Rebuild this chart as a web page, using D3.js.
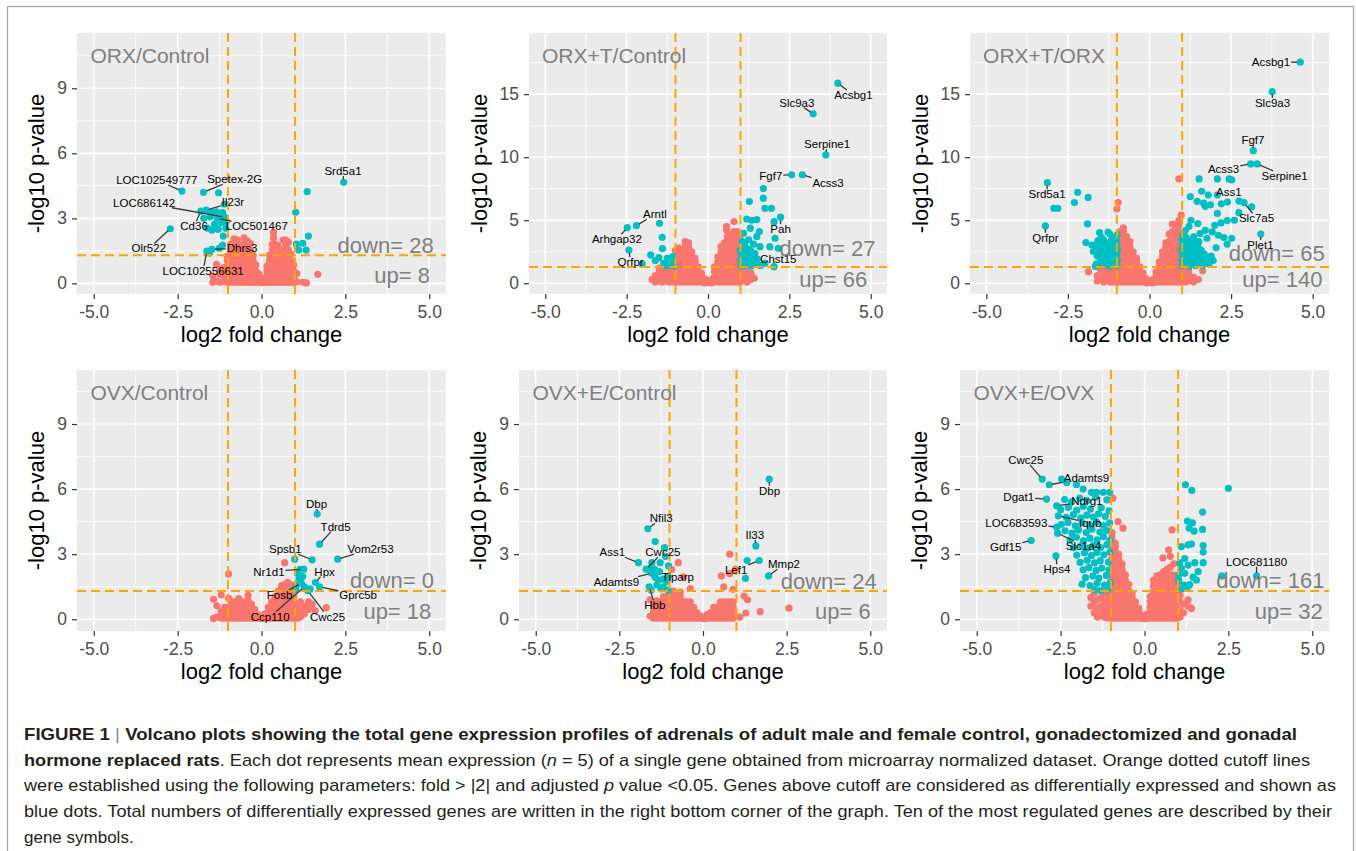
<!DOCTYPE html>
<html>
<head>
<meta charset="utf-8">
<script src="https://cdn.jsdelivr.net/npm/d3@7"></script>
<style>
  body { margin: 0; background: #fff; }
  svg { display: block; font-family: "Liberation Sans", Arial, Helvetica, sans-serif; }
</style>
</head>
<body>
<div id="fig"></div>
<script>
// ---- panel text / counts ----
const titles = ['ORX/Control', 'ORX+T/Control', 'ORX+T/ORX', 'OVX/Control', 'OVX+E/Control', 'OVX+E/OVX'];
const downCounts = [28, 27, 65, 0, 24, 161];
const upCounts = [8, 66, 140, 18, 6, 32];
const downAt = [[3.70, 1.77], [3.67, 2.78], [3.90, 2.38], [3.89, 1.78], [3.76, 1.74], [3.75, 1.78]];
const upAt = [[4.19, 0.36], [3.85, 0.32], [4.07, 0.32], [4.05, 0.35], [4.18, 0.35], [4.30, 0.35]];
const xTicks = [-5, -2.5, 0, 2.5, 5];
const yTicksSmall = [0, 3, 6, 9];
const yTicksBig = [0, 5, 10, 15];

// ---- non significant genes (red), columns: [log2FC, -log10p, -log10p, ...] ----
const orxCtrlRed = [
  [-1.45, 0.05, 0.35], [-1.34, 0.1, 0.88], [-1.24, 0.05, 0.42, 0.65], [-1.12, 0.1, 0.35, 0.73],
  [-1.02, 0.05, 0.3, 0.55, 0.8, 1.05, 1.25],
  [-0.92, 0.05, 0.3, 0.55, 0.8, 1.05, 1.3, 1.55, 1.8],
  [-0.82, 0.05, 0.3, 0.55, 0.8, 1.05, 1.3, 1.55, 1.8, 2.05],
  [-0.72, 0.05, 0.3, 0.55, 0.8, 1.05, 1.3, 1.55, 1.8, 2.0],
  [-0.62, 0.05, 0.3, 0.55, 0.8, 1.05, 1.3, 1.55, 1.75],
  [-0.52, 0.05, 0.3, 0.55, 0.8, 1.05, 1.3, 1.55, 1.8, 2.1],
  [-0.42, 0.05, 0.3, 0.55, 0.8, 1.05, 1.3, 1.55, 1.8, 1.95],
  [-0.33, 0.05, 0.3, 0.55, 0.8, 1.05, 1.3, 1.55, 1.85],
  [-0.25, 0.05, 0.3, 0.55, 0.8, 1.05, 1.3],
  [-0.17, 0.05, 0.3, 0.55, 0.85], [-0.09, 0.05, 0.3, 0.45], [0, 0.03, 0.15], [0.08, 0.05, 0.25],
  [0.16, 0.05, 0.3, 0.55, 0.8],
  [0.24, 0.05, 0.3, 0.55, 0.8, 1.05, 1.3],
  [0.32, 0.05, 0.3, 0.55, 0.8, 1.05, 1.3, 1.55, 1.8], [0.36, 2.1, 2.35],
  [0.4, 0.05, 0.3, 0.55, 0.8, 1.05, 1.3, 1.55, 1.8],
  [0.48, 0.05, 0.3, 0.55, 0.8, 1.05, 1.3, 1.55, 1.75],
  [0.56, 0.05, 0.3, 0.55, 0.8, 1.05, 1.3, 1.55],
  [0.64, 0.05, 0.3, 0.55, 0.8, 1.05, 1.3, 1.55, 2.0],
  [0.72, 0.05, 0.3, 0.55, 0.8, 1.05, 1.3, 1.55, 1.8, 2.0],
  [0.8, 0.05, 0.3, 0.55, 0.8, 1.05, 1.3, 1.55, 1.9],
  [0.88, 0.05, 0.3, 0.55, 0.8, 1.05, 1.35],
  [0.96, 0.05, 0.3, 0.55, 0.85], [1.05, 0.08, 0.46], [1.24, 0.05], [1.34, 0.02], [1.68, 0.42]
];
const orxTCtrlRed = [
  [-1.72, 0.3], [-1.62, 0.1, 0.6], [-1.5, 0.2, 0.8, 1.2], [-1.4, 0.1, 0.5, 0.9], [-1.3, 0.2, 0.6, 1.0],
  [-1.2, 0.1, 0.5, 0.9, 1.3], [-1.1, 0.1, 0.5, 0.9],
  [-1.0, 0.1, 0.5, 0.9, 1.3, 1.7, 2.1, 2.6],
  [-0.9, 0.1, 0.5, 0.9, 1.3, 1.7, 2.1, 2.5, 2.8],
  [-0.8, 0.1, 0.5, 0.9, 1.3, 1.7, 2.1, 2.5],
  [-0.7, 0.1, 0.5, 0.9, 1.3, 1.7, 2.1, 2.5, 2.9, 3.3],
  [-0.6, 0.1, 0.5, 0.9, 1.3, 1.7, 2.1, 2.5, 2.9, 3.2],
  [-0.5, 0.1, 0.5, 0.9, 1.3, 1.7, 2.1, 2.5],
  [-0.4, 0.1, 0.5, 0.9, 1.3, 1.7, 2.0],
  [-0.3, 0.1, 0.5, 0.9, 1.3], [-0.2, 0.1, 0.5, 0.8], [-0.1, 0.05, 0.35], [0, 0.05], [0.1, 0.05, 0.3],
  [0.2, 0.1, 0.5, 0.9, 1.3],
  [0.3, 0.1, 0.5, 0.9, 1.3, 1.7, 2.1],
  [0.4, 0.1, 0.5, 0.9, 1.3, 1.7, 2.1, 2.5, 2.9],
  [0.5, 0.1, 0.5, 0.9, 1.3, 1.7, 2.1, 2.5, 2.9, 3.2], [0.57, 4.2, 4.5],
  [0.6, 0.1, 0.5, 0.9, 1.3, 1.7, 2.1, 2.5, 2.9, 3.3, 3.7],
  [0.7, 0.1, 0.5, 0.9, 1.3, 1.7, 2.1, 2.5, 2.9, 3.3, 3.8],
  [0.8, 0.1, 0.5, 0.9, 1.3, 1.7, 2.1, 2.5, 2.9, 3.3, 3.7, 4.1, 4.9],
  [0.9, 0.1, 0.5, 0.9, 1.3, 1.7, 2.1, 2.5, 2.9, 3.3, 3.7, 4.1],
  [0.98, 0.1, 0.5, 0.9, 1.3, 2.0, 2.8, 3.5],
  [1.1, 0.2, 0.6, 1.0], [1.2, 0.1, 0.5, 0.9], [1.32, 0.3, 0.8], [1.42, 0.4]
];
const orxTOrxRed = [
  [-1.87, 0.92], [-1.6, 0.18, 0.6], [-1.5, 0.3, 1.06], [-1.4, 0.1, 0.5, 0.9], [-1.3, 0.2, 0.6, 1.0],
  [-1.2, 0.1, 0.5, 0.9], [-1.1, 0.1, 0.5, 0.9, 1.2], [-1.0, 0.1, 0.5, 0.9, 5.9], [-0.96, 6.4],
  [-0.9, 0.1, 0.5, 0.9, 1.3, 1.7, 2.1, 2.5, 2.9, 3.3, 3.7, 4.1],
  [-0.8, 0.1, 0.5, 0.9, 1.3, 1.7, 2.1, 2.5, 2.9, 3.3, 3.7, 4.1, 4.4],
  [-0.7, 0.1, 0.5, 0.9, 1.3, 1.7, 2.1, 2.5, 2.9, 3.3, 3.7],
  [-0.6, 0.1, 0.5, 0.9, 1.3, 1.7, 2.1, 2.5, 2.9, 3.3],
  [-0.5, 0.1, 0.5, 0.9, 1.3, 1.7, 2.1, 2.5],
  [-0.4, 0.1, 0.5, 0.9, 1.3, 1.7, 2.0],
  [-0.3, 0.1, 0.5, 0.9, 1.3], [-0.2, 0.1, 0.5, 0.8], [-0.1, 0.05, 0.35], [0, 0.05], [0.1, 0.05, 0.3],
  [0.2, 0.1, 0.5, 0.9],
  [0.3, 0.1, 0.5, 0.9, 1.3, 1.7],
  [0.4, 0.1, 0.5, 0.9, 1.3, 1.7, 2.1, 2.5],
  [0.5, 0.1, 0.5, 0.9, 1.3, 1.7, 2.1, 2.5, 2.9, 3.2],
  [0.6, 0.1, 0.5, 0.9, 1.3, 1.7, 2.1, 2.5, 2.9, 3.3, 3.9],
  [0.7, 0.1, 0.5, 0.9, 1.3, 1.7, 2.1, 2.5, 2.9, 3.3, 3.7, 4.1, 4.7],
  [0.8, 0.1, 0.5, 0.9, 1.3, 1.7, 2.1, 2.5, 2.9, 3.3, 3.7, 4.1, 4.5],
  [0.9, 0.1, 0.5, 0.9, 1.3, 1.7, 2.1, 2.5, 2.9, 3.3, 3.7, 4.1, 4.6, 5.0, 8.28],
  [0.97, 0.1, 0.5, 0.9, 1.3, 1.7, 2.1, 2.5, 3.0, 5.4],
  [1.1, 0.1, 0.5, 0.9], [1.2, 0.2, 0.6, 1.0], [1.35, 0.1, 0.5], [1.5, 0.3], [1.63, 1.0]
];
const ovxCtrlRed = [
  [-1.43, 0.04, 0.92], [-1.33, 0.1, 0.62], [-1.2, 0.05, 0.35, 1.12], [-1.1, 0.05, 0.3, 0.55],
  [-0.98, 0.05, 0.3, 0.55, 0.97, 2.09], [-0.88, 0.05, 0.3, 0.55, 0.8], [-0.78, 0.05, 0.3, 0.55, 0.8],
  [-0.68, 0.05, 0.3, 0.55, 0.8, 0.95], [-0.58, 0.05, 0.3, 0.55, 0.8], [-0.48, 0.05, 0.3, 0.55, 0.8],
  [-0.4, 0.05, 0.3, 0.55, 0.85, 1.1], [-0.3, 0.05, 0.3, 0.55, 0.7], [-0.2, 0.05, 0.3, 0.45],
  [-0.1, 0.05, 0.2], [0, 0.03], [0.1, 0.05, 0.25], [0.2, 0.05, 0.3, 0.55], [0.3, 0.05, 0.3, 0.55, 0.8],
  [0.4, 0.05, 0.3, 0.55, 0.8, 1.05],
  [0.5, 0.05, 0.3, 0.55, 0.8, 1.05, 1.3],
  [0.6, 0.05, 0.3, 0.55, 0.8, 1.05, 1.3, 1.55],
  [0.69, 0.05, 0.3, 0.55, 0.8, 1.05, 1.3, 1.6, 2.61],
  [0.78, 0.05, 0.3, 0.55, 0.8, 1.05, 1.3, 1.7],
  [0.87, 0.05, 0.3, 0.55, 0.8, 1.05, 1.3, 1.6],
  [0.96, 0.05, 0.3, 0.55, 0.8, 1.05],
  [1.06, 0.05, 0.3, 0.6], [1.16, 0.1, 0.4, 0.8], [1.28, 0.25, 0.6], [1.4, 0.45, 0.8], [1.51, 0.7],
  [1.6, 0.4], [1.93, 0.54]
];
const ovxECtrlRed = [
  [-1.58, 0.14, 0.9], [-1.48, 0.05, 0.35, 0.6], [-1.38, 0.05, 0.3, 0.55, 0.85], [-1.28, 0.05, 0.3, 0.55, 0.8],
  [-1.18, 0.05, 0.3, 0.55, 0.8, 1.05], [-1.08, 0.05, 0.3, 0.55, 0.8, 1.05],
  [-0.98, 0.05, 0.3, 0.55, 0.8, 1.05, 1.3], [-0.94, 2.3], [-0.88, 0.05, 0.3, 0.55, 0.8, 1.05, 1.3],
  [-0.78, 0.05, 0.3, 0.55, 0.8, 1.05], [-0.74, 2.61], [-0.68, 0.05, 0.3, 0.55, 0.8, 1.05, 1.25],
  [-0.58, 0.05, 0.3, 0.55, 0.8, 1.96], [-0.48, 0.05, 0.3, 0.55, 0.8], [-0.38, 0.05, 0.3, 0.55, 0.8, 1.42],
  [-0.28, 0.05, 0.3, 0.55], [-0.18, 0.05, 0.3], [-0.08, 0.05, 0.15], [0.02, 0.03], [0.12, 0.05, 0.2],
  [0.22, 0.05, 0.3], [0.32, 0.05, 0.3, 0.55], [0.42, 0.05, 0.3, 0.55], [0.52, 0.05, 0.3, 0.55, 0.8],
  [0.55, 2.0], [0.62, 0.05, 0.3, 0.55, 0.8, 1.5], [0.72, 0.05, 0.3, 0.55, 0.8], [0.8, 2.1, 3.0],
  [0.82, 0.05, 0.3, 0.55, 0.8], [0.9, 0.05, 0.3, 0.55, 0.8, 1.38], [0.97, 2.31], [1.1, 0.1],
  [1.23, 1.07], [1.28, 0.29], [1.33, 0.9], [1.71, 0.35], [2.57, 0.51]
];
const ovxEOvxRed = [
  [-1.6, 0.6, 1.0], [-1.5, 0.3, 0.8, 1.2], [-1.4, 0.1, 0.5, 0.9], [-1.3, 0.2, 0.6, 1.0],
  [-1.2, 0.1, 0.4, 0.8, 1.2], [-1.1, 0.05, 0.3, 0.6, 0.9, 1.2],
  [-0.97, 0.05, 0.3, 0.55, 0.8, 1.05, 1.3, 1.55, 1.8, 2.05, 2.3, 2.55, 2.8, 3.05, 3.3, 3.55, 3.8, 4.0],
  [-0.94, 5.58],
  [-0.87, 0.05, 0.3, 0.55, 0.8, 1.05, 1.3, 1.55, 1.8, 2.05, 2.3, 2.55, 2.8, 3.05, 3.3, 3.5],
  [-0.79, 4.5],
  [-0.77, 0.05, 0.3, 0.55, 0.8, 1.05, 1.3, 1.55, 1.8, 2.05, 2.3, 2.55, 2.8, 3.0],
  [-0.67, 0.05, 0.3, 0.55, 0.8, 1.05, 1.3, 1.55, 1.8, 2.05, 2.3, 2.55],
  [-0.64, 4.2],
  [-0.57, 0.05, 0.3, 0.55, 0.8, 1.05, 1.3, 1.55, 1.8, 2.05],
  [-0.47, 0.05, 0.3, 0.55, 0.8, 1.05, 1.3, 1.6],
  [-0.37, 0.05, 0.3, 0.55, 0.8, 1.05, 1.2],
  [-0.27, 0.05, 0.3, 0.55, 0.8], [-0.17, 0.05, 0.3, 0.5], [-0.08, 0.05, 0.2], [0, 0.03], [0.08, 0.05, 0.25],
  [0.17, 0.05, 0.3, 0.55, 0.8, 1.05],
  [0.27, 0.05, 0.3, 0.55, 0.8, 1.05, 1.3, 1.55, 1.8],
  [0.37, 0.05, 0.3, 0.55, 0.8, 1.05, 1.3, 1.55, 1.8, 2.0],
  [0.47, 0.05, 0.3, 0.55, 0.8, 1.05, 1.3, 1.55, 1.8, 2.05],
  [0.55, 2.83],
  [0.57, 0.05, 0.3, 0.55, 0.8, 1.05, 1.3, 1.55, 1.8, 2.05, 2.2],
  [0.67, 0.05, 0.3, 0.55, 0.8, 1.05, 1.3, 1.55, 1.8, 2.05, 2.3],
  [0.72, 3.2],
  [0.77, 0.05, 0.3, 0.55, 0.8, 1.05, 1.3, 1.55, 1.8, 2.05, 2.4, 2.9],
  [0.82, 4.12],
  [0.87, 0.05, 0.3, 0.55, 0.8, 1.05, 1.3, 1.55, 1.8, 2.05, 2.56],
  [0.96, 0.05, 0.3, 0.55, 0.8, 1.05, 1.3, 1.6],
  [1.06, 0.1, 0.4, 0.8, 1.1], [1.16, 0.3, 0.7], [1.3, 0.6, 0.9], [1.4, 0.5]
];

// ---- differentially expressed genes (blue), [log2FC, -log10p] ----
const orxCtrlBlue = [
  [-2.37, 4.26], [-1.73, 4.2], [-1.28, 4.18], [-1.11, 3.65], [-1.81, 3.33], [-1.65, 3.38], [-1.48, 3.26],
  [-1.34, 3.3], [-1.16, 3.26], [-1.09, 3.05], [-1.72, 3.0], [-1.53, 3.07], [-1.32, 3.0], [-1.17, 3.0],
  [-1.48, 2.46], [-1.29, 2.5], [-1.06, 2.54], [-1.62, 2.55], [-1.14, 2.18], [-1.16, 1.77], [-1.63, 1.49],
  [-1.48, 1.57], [-1.26, 1.62], [-2.72, 2.52], [-1.4, 2.72], [-1.2, 2.8], [-1.55, 1.4], [-1.05, 2.85],
  [2.45, 4.66], [1.36, 4.23], [1.02, 3.28], [1.4, 2.18], [1.04, 1.81], [1.23, 1.85], [1.11, 1.54], [1.33, 1.54]
];
const orxTCtrlBlue = [
  [3.99, 15.87], [3.23, 13.44], [3.62, 10.18], [2.57, 8.6], [2.9, 8.6], [1.7, 7.51], [1.7, 6.75], [1.27, 6.48],
  [1.75, 5.95], [1.95, 5.95], [2.23, 5.24], [2.03, 4.89], [1.19, 5.1], [1.34, 5.0], [1.5, 5.05], [1.09, 3.97],
  [1.3, 4.37], [1.58, 4.1], [1.25, 3.44], [1.5, 3.7], [2.06, 3.57], [1.9, 2.9], [2.16, 2.78], [1.6, 2.9],
  [2.03, 1.32], [1.75, 1.6],
  [1.02, 1.42], [1.0, 1.82], [1.03, 2.18], [0.99, 2.62], [1.13, 1.38], [1.1, 1.84], [1.14, 2.22], [1.11, 2.58],
  [1.13, 3.02], [1.22, 1.52], [1.24, 1.88], [1.2, 2.32], [1.23, 2.72], [1.33, 1.38], [1.31, 1.82], [1.34, 2.18],
  [1.3, 2.62], [1.43, 1.58], [1.41, 2.02], [1.44, 2.38], [1.53, 1.48], [1.51, 1.92], [1.61, 1.42], [1.05, 3.3], [1.4, 3.1],
  [-2.48, 4.41], [-2.2, 4.57], [-1.49, 4.76], [-1.41, 3.65], [-2.43, 2.64], [-1.4, 2.76], [-1.76, 2.25],
  [-1.51, 2.03], [-2.02, 1.53], [-1.36, 1.59], [-1.21, 1.45], [-1.08, 1.59], [-1.25, 1.98], [-1.08, 2.11],
  [-1.62, 1.8], [-1.15, 1.4], [-1.02, 1.4], [-1.3, 1.4]
];
const orxTOrxBlue = [
  [-3.13, 7.98], [-3.19, 4.55], [-2.2, 7.22], [-1.88, 6.81], [-2.3, 6.4], [-2.93, 5.95], [-2.81, 5.95],
  [-1.9, 4.71], [-1.95, 3.23],
  [-1.0, 1.42], [-0.99, 1.85], [-1.01, 2.25], [-0.98, 2.66], [-1.0, 3.05], [-1.02, 3.46], [-0.99, 3.85],
  [-1.09, 1.55], [-1.12, 1.96], [-1.08, 2.38], [-1.11, 2.75], [-1.07, 3.18], [-1.12, 3.58],
  [-1.21, 1.38], [-1.18, 1.82], [-1.23, 2.2], [-1.19, 2.62], [-1.24, 3.02], [-1.17, 3.44], [-1.22, 3.92],
  [-1.31, 1.6], [-1.28, 1.98], [-1.33, 2.36], [-1.29, 2.78], [-1.34, 3.14], [-1.27, 4.05],
  [-1.42, 1.44], [-1.38, 1.86], [-1.43, 2.24], [-1.39, 2.64], [-1.44, 3.04], [-1.41, 3.45],
  [-1.52, 1.66], [-1.49, 2.06], [-1.54, 2.46], [-1.5, 2.86], [-1.47, 3.62], [-1.53, 4.02],
  [-1.63, 1.52], [-1.6, 2.18], [-1.64, 2.98], [-1.58, 3.38], [-1.72, 2.52], [-1.76, 3.02], [-1.66, 1.34],
  [4.62, 17.54], [3.76, 15.2], [3.18, 10.52], [3.1, 9.47], [3.3, 9.47], [1.52, 8.28], [2.08, 8.28],
  [2.44, 8.28], [2.52, 8.2], [2.08, 7.0], [1.25, 6.87], [1.46, 6.5], [1.66, 6.35], [1.71, 6.1], [1.87, 6.22],
  [2.08, 5.54], [2.39, 6.44], [2.74, 6.52], [2.9, 6.39], [3.13, 6.07], [2.74, 5.6], [2.38, 4.97], [1.27, 5.0],
  [1.48, 4.74], [2.0, 4.6], [2.19, 4.79], [3.41, 3.91], [1.71, 4.2], [1.92, 4.07], [1.76, 3.57], [2.11, 3.81],
  [2.28, 3.63], [2.52, 3.57], [1.35, 3.68], [1.55, 3.94], [2.38, 3.11], [2.04, 2.81], [1.89, 2.15], [1.6, 7.3],
  [1.8, 7.0], [2.6, 5.0], [2.2, 6.3],
  [1.0, 1.42], [0.99, 1.86], [1.02, 2.24], [0.98, 2.64], [1.01, 3.06], [0.99, 3.44], [1.02, 3.82],
  [1.09, 1.62], [1.12, 2.04], [1.08, 2.42], [1.11, 2.84], [1.07, 3.22], [1.12, 3.62], [1.1, 4.18],
  [1.21, 1.38], [1.18, 1.82], [1.23, 2.18], [1.19, 2.64], [1.22, 3.02], [1.18, 3.38], [1.21, 4.52],
  [1.31, 1.62], [1.28, 2.02], [1.32, 2.38], [1.29, 2.82], [1.33, 3.18],
  [1.41, 1.4], [1.38, 1.84], [1.43, 2.22], [1.39, 2.62], [1.42, 3.04],
  [1.52, 1.62], [1.48, 2.04], [1.53, 2.42], [1.49, 2.84], [1.51, 3.3],
  [1.62, 1.42], [1.58, 1.82], [1.63, 2.24], [1.59, 2.62], [1.71, 1.7], [1.68, 2.32], [1.82, 1.52], [1.78, 2.04], [1.95, 1.8]
];
const ovxCtrlBlue = [
  [1.66, 4.85], [1.73, 3.46], [2.27, 2.77], [0.99, 2.77], [1.51, 2.74], [1.26, 2.31], [1.61, 1.69],
  [1.73, 1.5], [1.07, 2.12], [1.12, 1.89], [1.19, 1.66], [1.28, 1.5], [1.38, 1.32], [1.04, 1.58],
  [1.23, 1.97], [1.15, 2.3], [1.45, 1.4], [1.02, 1.38]
];
const ovxECtrlBlue = [
  [1.98, 6.46], [1.58, 3.38], [1.32, 2.71], [1.68, 2.71], [1.96, 2.0], [1.27, 1.89],
  [-1.65, 4.17], [-1.43, 3.58], [-1.15, 3.3], [-1.93, 2.61], [-1.53, 2.61], [-1.28, 2.61], [-1.7, 2.31],
  [-1.03, 2.46], [-1.53, 2.12], [-1.43, 1.94], [-1.34, 1.81], [-1.19, 1.85], [-1.04, 1.97], [-1.38, 1.58],
  [-1.19, 1.5], [-1.04, 1.35], [-1.61, 1.5], [-1.08, 1.75], [-1.3, 2.2], [-1.45, 2.3], [-1.6, 2.3],
  [-1.25, 1.4], [-1.55, 1.35], [-1.12, 2.9]
];
const ovxEOvxBlue = [
  [-3.05, 6.46], [-2.84, 6.2], [-2.47, 6.46], [-2.92, 5.54], [-2.62, 5.23], [-2.62, 4.25], [-2.57, 4.77],
  [-3.38, 3.63], [-2.59, 3.97], [-2.64, 2.92], [-2.32, 6.3], [-2.03, 6.2], [-1.83, 6.0], [-1.58, 5.85],
  [-1.43, 5.85], [-1.23, 5.85], [-1.04, 5.85],
  [-2.38, 5.52], [-2.17, 5.41], [-1.93, 5.58], [-1.71, 5.47], [-1.46, 5.62], [-1.12, 5.5],
  [-2.5, 5.05], [-2.27, 5.16], [-2.02, 5.02], [-1.83, 5.2], [-1.61, 5.08], [-1.29, 5.14], [-1.06, 5.0],
  [-2.33, 4.7], [-2.12, 4.82], [-1.9, 4.66], [-1.72, 4.8], [-1.52, 4.71], [-1.37, 4.86], [-1.17, 4.74],
  [-2.48, 4.38], [-2.28, 4.46], [-2.06, 4.31], [-1.86, 4.45], [-1.63, 4.35], [-1.43, 4.48], [-1.23, 4.32], [-1.04, 4.44],
  [-2.37, 4.08], [-2.16, 3.97], [-1.97, 4.12], [-1.74, 4.0], [-1.57, 4.15], [-1.33, 4.02], [-1.13, 4.1],
  [-2.22, 3.66], [-2.03, 3.78], [-1.82, 3.62], [-1.63, 3.74], [-1.41, 3.66], [-1.22, 3.8], [-1.03, 3.64],
  [-2.12, 3.3], [-1.88, 3.4], [-1.69, 3.28], [-1.52, 3.42], [-1.31, 3.3], [-1.12, 3.44],
  [-2.02, 2.96], [-1.79, 3.06], [-1.58, 2.94], [-1.42, 3.08], [-1.21, 2.97], [-1.03, 3.1],
  [-1.92, 2.62], [-1.71, 2.72], [-1.49, 2.6], [-1.32, 2.7], [-1.08, 2.64],
  [-1.83, 2.28], [-1.66, 2.38], [-1.44, 2.25], [-1.27, 2.36], [-1.06, 2.27],
  [-1.76, 1.92], [-1.54, 2.0], [-1.36, 1.9], [-1.14, 2.02],
  [-1.86, 1.62], [-1.62, 1.55], [-1.41, 1.66], [-1.19, 1.58], [-1.02, 1.7],
  [-1.48, 1.36], [-1.31, 1.32], [-1.09, 1.38],
  [1.22, 6.2], [1.41, 5.94], [2.5, 6.04], [1.73, 4.94], [1.28, 4.53], [1.43, 4.45], [1.33, 4.2], [1.73, 4.14],
  [1.48, 4.06], [1.1, 3.35], [1.3, 3.43], [1.4, 3.47], [1.75, 3.4], [1.75, 3.1], [1.1, 2.35], [1.3, 2.5],
  [1.5, 2.61], [1.75, 2.61], [1.2, 2.12], [1.45, 1.94], [1.55, 1.81], [1.02, 1.78], [1.18, 1.58], [1.3, 1.52],
  [2.3, 2.0], [3.34, 2.0], [1.2, 2.8], [1.05, 2.6], [1.12, 1.4], [1.6, 2.2], [1.35, 1.6], [1.02, 2.05]
];

// ---- gene labels: [symbol, pointX, pointY, labelX, labelY] ----
const orxCtrlLabels = [
  ['Srd5a1', 2.45, 4.66, 2.43, 5.18], ['LOC102549777', -2.37, 4.26, -3.12, 4.77],
  ['Spetex-2G', -1.73, 4.2, -0.8, 4.8], ['LOC686142', -1.09, 3.05, -3.5, 3.72],
  ['Il23r', -1.65, 3.38, -0.85, 3.74], ['Cd36', -1.81, 3.33, -2.01, 2.64],
  ['LOC501467', -1.32, 3.0, -0.14, 2.64], ['Olr522', -2.72, 2.52, -3.36, 1.61],
  ['Dhrs3', -1.48, 1.57, -0.58, 1.61], ['LOC102556631', -1.63, 1.49, -1.74, 0.58]
];
const orxTCtrlLabels = [
  ['Acsbg1', 3.99, 15.87, 4.47, 14.94], ['Slc9a3', 3.23, 13.44, 2.73, 14.33],
  ['Serpine1', 3.62, 10.18, 3.66, 11.03], ['Fgf7', 2.57, 8.6, 1.93, 8.54],
  ['Acss3', 2.9, 8.6, 3.69, 7.98], ['Pah', 2.23, 5.24, 2.23, 4.29],
  ['Chst15', 2.03, 1.32, 2.16, 1.9], ['Arntl', -2.2, 4.57, -1.63, 5.47],
  ['Arhgap32', -2.48, 4.41, -2.8, 3.49], ['Qrfpr', -2.43, 2.64, -2.38, 1.67]
];
const orxTOrxLabels = [
  ['Acsbg1', 4.62, 17.54, 3.72, 17.54], ['Slc9a3', 3.76, 15.2, 3.77, 14.29],
  ['Fgf7', 3.18, 10.52, 3.17, 11.37], ['Acss3', 3.1, 9.47, 2.27, 9.07],
  ['Serpine1', 3.3, 9.47, 4.14, 8.52], ['Ass1', 2.08, 7.0, 2.43, 7.27],
  ['Slc7a5', 2.9, 6.39, 3.28, 5.16], ['Plet1', 3.41, 3.91, 3.4, 3.04],
  ['Srd5a1', -3.13, 7.98, -3.14, 7.06], ['Qrfpr', -3.19, 4.55, -3.19, 3.62]
];
const ovxCtrlLabels = [
  ['Dbp', 1.66, 4.85, 1.64, 5.31], ['Tdrd5', 1.73, 3.46, 2.21, 4.27],
  ['Vom2r53', 2.27, 2.77, 3.25, 3.23], ['Spsb1', 1.51, 2.74, 0.71, 3.23],
  ['Nr1d1', 1.26, 2.31, 0.22, 2.2], ['Hpx', 1.61, 1.69, 1.88, 2.2],
  ['Gprc5b', 1.73, 1.5, 2.88, 1.12], ['Fosb', 1.19, 1.66, 0.54, 1.12],
  ['Ccp110', 1.28, 1.5, 0.26, 0.12], ['Cwc25', 1.38, 1.32, 1.97, 0.12]
];
const ovxECtrlLabels = [
  ['Dbp', 1.98, 6.46, 1.99, 5.92], ['Il33', 1.58, 3.38, 1.55, 3.89],
  ['Mmp2', 1.96, 2.0, 2.42, 2.54], ['Lef1', 1.68, 2.71, 0.99, 2.28],
  ['Nfil3', -1.65, 4.17, -1.25, 4.66], ['Ass1', -1.93, 2.61, -2.71, 3.09],
  ['Cwc25', -1.7, 2.31, -1.2, 3.09], ['Adamts9', -1.53, 2.12, -2.59, 1.74],
  ['Tiparp', -1.04, 1.97, -0.75, 1.94], ['Hbb', -1.61, 1.5, -1.44, 0.66]
];
const ovxEOvxLabels = [
  ['Cwc25', -3.05, 6.46, -3.54, 7.35], ['Adamts9', -2.84, 6.2, -1.73, 6.5],
  ['Dgat1', -2.92, 5.54, -3.75, 5.63], ['Ndrg1', -2.62, 5.23, -1.72, 5.43],
  ['LOC683593', -2.62, 4.25, -3.82, 4.46], ['Iqub', -2.57, 4.77, -1.62, 4.43],
  ['Slc1a4', -2.59, 3.97, -1.82, 3.38], ['Gdf15', -3.38, 3.63, -4.14, 3.35],
  ['Hps4', -2.64, 2.92, -2.61, 2.31], ['LOC681180', 3.34, 2.0, 3.34, 2.66]
];

const redSets = [orxCtrlRed, orxTCtrlRed, orxTOrxRed, ovxCtrlRed, ovxECtrlRed, ovxEOvxRed];
const blueSets = [orxCtrlBlue, orxTCtrlBlue, orxTOrxBlue, ovxCtrlBlue, ovxECtrlBlue, ovxEOvxBlue];
const labelSets = [orxCtrlLabels, orxTCtrlLabels, orxTOrxLabels, ovxCtrlLabels, ovxECtrlLabels, ovxEOvxLabels];

// ---- layout ----
const W = 1356, H = 851;
const boxes = [
  { x0: 77, x1: 446, y0: 33, y1: 294, yDom: [-0.49, 11.55], ticks: yTicksSmall },
  { x0: 529, x1: 887, y0: 33, y1: 294, yDom: [-0.85, 19.85], ticks: yTicksBig },
  { x0: 970, x1: 1329, y0: 33, y1: 294, yDom: [-0.85, 19.85], ticks: yTicksBig },
  { x0: 77, x1: 446, y0: 370, y1: 631, yDom: [-0.54, 11.49], ticks: yTicksSmall },
  { x0: 519, x1: 887, y0: 370, y1: 631, yDom: [-0.54, 11.49], ticks: yTicksSmall },
  { x0: 960, x1: 1329, y0: 370, y1: 631, yDom: [-0.54, 11.49], ticks: yTicksSmall }
];
const RED = '#F8766D', BLUE = '#00BFC4', CUT = '#FFA500';

const svg = d3.select('#fig').append('svg').attr('width', W).attr('height', H);
svg.append('rect').attr('width', W).attr('height', H).attr('fill', '#fff');
svg.append('rect')
  .attr('x', 7.5).attr('y', 6.5).attr('width', 1346).attr('height', 900)
  .attr('fill', 'none').attr('stroke', '#a8a8a8').attr('stroke-width', 1.3);

const flatCols = cols => cols.flatMap(([x, ...ys]) => ys.map(y => [x, y]));
const mids = t => t.slice(0, -1).map((v, i) => (v + t[i + 1]) / 2).concat([t[t.length - 1] + (t[1] - t[0]) / 2]);

function drawPanel(i) {
  const b = boxes[i];
  const x = d3.scaleLinear().domain([-5.5, 5.5]).range([b.x0, b.x1]);
  const y = d3.scaleLinear().domain(b.yDom).range([b.y1, b.y0]);
  const g = svg.append('g');

  // panel background + grid
  g.append('rect').attr('x', b.x0).attr('y', b.y0).attr('width', b.x1 - b.x0).attr('height', b.y1 - b.y0)
    .attr('fill', '#EBEBEB');
  const grid = g.append('g').attr('stroke', '#fff');
  mids(xTicks).filter(v => v < 5.5).forEach(v => grid.append('line')
    .attr('x1', x(v)).attr('x2', x(v)).attr('y1', b.y0).attr('y2', b.y1).attr('stroke-width', 0.8));
  mids(b.ticks).filter(v => v < b.yDom[1]).forEach(v => grid.append('line')
    .attr('x1', b.x0).attr('x2', b.x1).attr('y1', y(v)).attr('y2', y(v)).attr('stroke-width', 0.8));
  xTicks.forEach(v => grid.append('line')
    .attr('x1', x(v)).attr('x2', x(v)).attr('y1', b.y0).attr('y2', b.y1).attr('stroke-width', 1.6));
  b.ticks.forEach(v => grid.append('line')
    .attr('x1', b.x0).attr('x2', b.x1).attr('y1', y(v)).attr('y2', y(v)).attr('stroke-width', 1.6));

  // axes
  const xAxis = g.append('g').attr('transform', `translate(0,${b.y1})`)
    .call(d3.axisBottom(x).tickValues(xTicks).tickFormat(d => d.toFixed(1)).tickSize(5).tickPadding(7));
  const yAxis = g.append('g').attr('transform', `translate(${b.x0},0)`)
    .call(d3.axisLeft(y).tickValues(b.ticks).tickSize(5).tickPadding(5));
  [xAxis, yAxis].forEach(a => {
    a.select('.domain').remove();
    a.selectAll('line').attr('stroke', '#333').attr('stroke-width', 1.2);
    a.selectAll('text').attr('fill', '#4D4D4D').style('font-size', '17.5px')
      .style('font-family', '"Liberation Sans", Arial, sans-serif');
  });
  const yw = yAxis.node().getBBox().width;

  g.append('text').attr('x', (b.x0 + b.x1) / 2).attr('y', b.y1 + 48)
    .attr('text-anchor', 'middle').style('font-size', '22px').attr('fill', '#000')
    .text('log2 fold change');
  g.append('text').attr('transform', `translate(${b.x0 - yw - 13},${(b.y0 + b.y1) / 2}) rotate(-90)`)
    .attr('text-anchor', 'middle').style('font-size', '22px').attr('fill', '#000')
    .text('-log10 p-value');

  // points
  g.append('g').selectAll('circle').data(flatCols(redSets[i])).join('circle')
    .attr('cx', d => x(d[0])).attr('cy', d => y(d[1])).attr('r', 3.6).attr('fill', RED);
  g.append('g').selectAll('circle').data(blueSets[i]).join('circle')
    .attr('cx', d => x(d[0])).attr('cy', d => y(d[1])).attr('r', 3.6).attr('fill', BLUE);

  // cutoff lines
  const cut = g.append('g').attr('stroke', CUT).attr('stroke-width', 2).attr('stroke-dasharray', '9,5');
  [-1, 1].forEach(v => cut.append('line').attr('x1', x(v)).attr('x2', x(v)).attr('y1', b.y0).attr('y2', b.y1));
  const p05 = -Math.log10(0.05);
  cut.append('line').attr('x1', b.x0).attr('x2', b.x1).attr('y1', y(p05)).attr('y2', y(p05));

  // gene labels with leader segments
  const lab = g.append('g');
  labelSets[i].forEach(([name, px, py, lx, ly]) => {
    const t = lab.append('text').attr('x', x(lx)).attr('y', y(ly))
      .attr('text-anchor', 'middle').attr('dominant-baseline', 'central')
      .style('font-size', '11.5px').attr('fill', '#000').text(name);
    const bb = t.node().getBBox();
    const cx = bb.x + bb.width / 2, cy = bb.y + bb.height / 2;
    const hx = bb.width / 2 + 1, hy = bb.height / 2 - 1;
    const tx = x(px), ty = y(py);
    const dx = tx - cx, dy = ty - cy;
    const s = Math.min(dx ? hx / Math.abs(dx) : Infinity, dy ? hy / Math.abs(dy) : Infinity);
    if (s >= 1) return;
    const sx = cx + dx * s, sy = cy + dy * s;
    const len = Math.hypot(tx - sx, ty - sy);
    if (len < 4) return;
    const ex = tx - (tx - sx) / len * 3, ey = ty - (ty - sy) / len * 3;
    lab.insert('line', 'text').attr('x1', sx).attr('y1', sy).attr('x2', ex).attr('y2', ey)
      .attr('stroke', '#3a3a3a').attr('stroke-width', 1.3);
  });

  // title and counts
  g.append('text').attr('x', x(-5.1)).attr('y', b.y0 + 22).attr('dominant-baseline', 'central')
    .style('font-size', '21px').attr('fill', '#7F7F7F').text(titles[i]);
  g.append('text').attr('x', x(downAt[i][0])).attr('y', y(downAt[i][1]))
    .attr('text-anchor', 'middle').attr('dominant-baseline', 'central')
    .style('font-size', '22px').attr('fill', '#7F7F7F').text(`down= ${downCounts[i]}`);
  g.append('text').attr('x', x(upAt[i][0])).attr('y', y(upAt[i][1]))
    .attr('text-anchor', 'middle').attr('dominant-baseline', 'central')
    .style('font-size', '22px').attr('fill', '#7F7F7F').text(`up= ${upCounts[i]}`);
}

d3.range(6).forEach(drawPanel);

// ---- caption ----
const capLines = [
  [['b', 'FIGURE 1 '], ['bar', '| '], ['b', 'Volcano plots showing the total gene expression profiles of adrenals of adult male and female control, gonadectomized and gonadal']],
  [['b', 'hormone replaced rats'], ['r', '. Each dot represents mean expression ('], ['i', 'n'], ['r', ' = 5) of a single gene obtained from microarray normalized dataset. Orange dotted cutoff lines']],
  [['r', 'were established using the following parameters: fold > |2| and adjusted '], ['i', 'p'], ['r', ' value <0.05. Genes above cutoff are considered as differentially expressed and shown as']],
  [['r', 'blue dots. Total numbers of differentially expressed genes are written in the right bottom corner of the graph. Ten of the most regulated genes are described by their']],
  [['r', 'gene symbols.']]
];
const capWidths = [1273, 1286, 1312, 1308, null];
const cap = svg.append('g').attr('fill', '#231F20').style('font-size', '17px');
capLines.forEach((parts, k) => {
  const t = cap.append('text').attr('x', 24).attr('y', 740 + k * 25.7);
  if (capWidths[k]) t.attr('textLength', capWidths[k]).attr('lengthAdjust', 'spacingAndGlyphs');
  parts.forEach(([kind, str]) => {
    const s = t.append('tspan').text(str);
    if (kind === 'b') s.attr('font-weight', 'bold');
    if (kind === 'i') s.attr('font-style', 'italic');
    if (kind === 'bar') s.attr('fill', '#888').attr('font-weight', 'normal');
  });
});
</script>
</body>
</html>
